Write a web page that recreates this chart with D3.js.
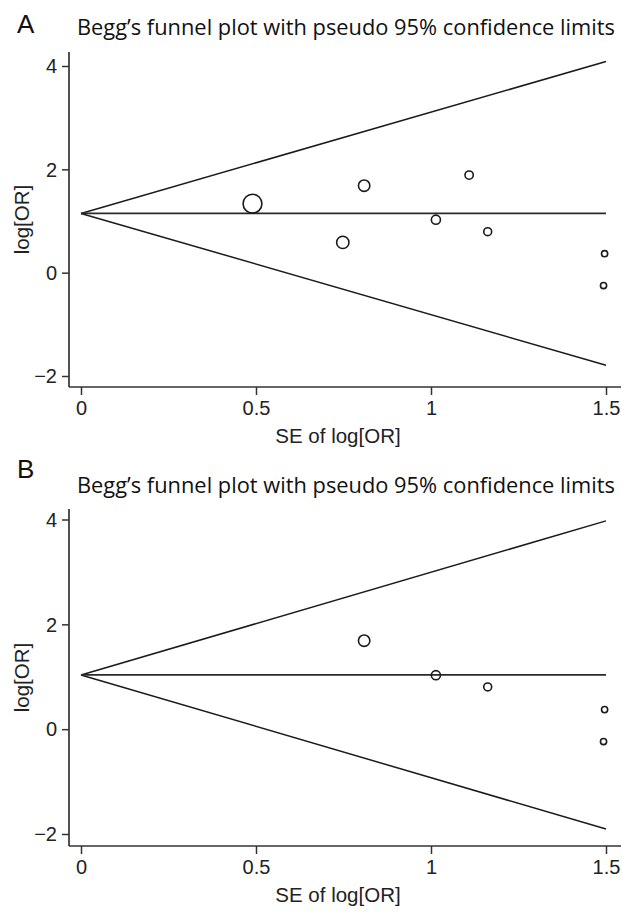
<!DOCTYPE html>
<html>
<head>
<meta charset="utf-8">
<script src="https://cdn.jsdelivr.net/npm/d3@7"></script>
<style>
  body { margin: 0; background: #fff; }
  svg { display: block; }
  .tick text { font-family: "Liberation Sans", Arial, sans-serif; font-size: 20px; fill: #222; }
</style>
</head>
<body>
<svg width="622" height="913"></svg>
<script>
// study estimates
const seA = [0.49, 0.809, 0.748, 1.109, 1.014, 1.162, 1.496, 1.493];
const logOrA = [1.335, 1.683, 0.586, 1.888, 1.025, 0.793, 0.367, -0.25];
const seB = [0.809, 1.014, 1.162, 1.496, 1.493];
const logOrB = [1.688, 1.03, 0.806, 0.373, -0.236];
// pooled estimates (funnel apex)
const pooled = [1.147, 1.034];
const panelLetters = ["A", "B"];
const titleText = "Begg\u2019s funnel plot with pseudo 95% confidence limits";
const xTicks = [0, 0.5, 1, 1.5];
const yTicks = [-2, 0, 2, 4];
const z = 1.96;

const svg = d3.select("svg");

// circle area proportional to weight 1/se^2
const maxW = 1 / (0.49 * 0.49);
const rScale = d3.scaleSqrt().domain([0, maxW]).range([0, 9.4]);

const panels = [
  { letter: panelLetters[0], se: seA, est: logOrA, theta: pooled[0],
    letterY: 33, titleY: 35, top: 52, y4: 66, yM2: 376, bottom: 387 },
  { letter: panelLetters[1], se: seB, est: logOrB, theta: pooled[1],
    letterY: 478, titleY: 493, top: 509, y4: 519.5, yM2: 834, bottom: 846 }
];

const axisLeft = 69, axisRight = 621;

panels.forEach(function(p) {
  const g = svg.append("g");

  const x = d3.scaleLinear().domain([0, 1.5]).range([81, 606]);
  const y = d3.scaleLinear().domain([-2, 4]).range([p.yM2, p.y4]);

  g.append("text")
    .attr("x", 17).attr("y", p.letterY)
    .style("font-family", "Liberation Sans, Arial, sans-serif")
    .style("font-size", "26px")
    .attr("fill", "#111")
    .text(p.letter);

  g.append("text")
    .attr("x", 77).attr("y", p.titleY)
    .attr("textLength", 538)
    .attr("lengthAdjust", "spacingAndGlyphs")
    .style("font-family", "Open Sans, Noto Sans, sans-serif")
    .style("font-size", "22px")
    .attr("fill", "#111")
    .text(titleText);

  // axes
  const ya = g.append("g")
    .attr("transform", "translate(" + axisLeft + ",0)")
    .call(d3.axisLeft(y).tickValues(yTicks).tickSize(7).tickPadding(5)
      .tickFormat(function(d) { return d < 0 ? "\u2212" + Math.abs(d) : d; }));
  ya.select(".domain").remove();
  ya.selectAll(".tick line").attr("stroke", "#333").attr("stroke-width", 1.5);
  ya.selectAll(".tick text").attr("dy", "0.34em");

  const xa = g.append("g")
    .attr("transform", "translate(0," + p.bottom + ")")
    .call(d3.axisBottom(x).tickValues(xTicks).tickSize(8).tickPadding(6)
      .tickFormat(function(d) { return d; }));
  xa.select(".domain").remove();
  xa.selectAll(".tick line").attr("stroke", "#333").attr("stroke-width", 1.5);

  g.append("line")
    .attr("x1", axisLeft).attr("x2", axisLeft)
    .attr("y1", p.top).attr("y2", p.bottom)
    .attr("stroke", "#333").attr("stroke-width", 1.7);
  g.append("line")
    .attr("x1", axisLeft).attr("x2", axisRight)
    .attr("y1", p.bottom).attr("y2", p.bottom)
    .attr("stroke", "#333").attr("stroke-width", 1.7);

  g.append("text")
    .attr("transform", "translate(29," + ((p.top + p.bottom) / 2) + ") rotate(-90)")
    .attr("text-anchor", "middle")
    .style("font-family", "Liberation Sans, Arial, sans-serif")
    .style("font-size", "20.5px")
    .attr("fill", "#222")
    .text("log[OR]");

  g.append("text")
    .attr("x", 338).attr("y", p.bottom + 56)
    .attr("text-anchor", "middle")
    .style("font-family", "Liberation Sans, Arial, sans-serif")
    .style("font-size", "20.5px")
    .attr("fill", "#222")
    .text("SE of log[OR]");

  // pseudo 95% confidence limits
  const line = d3.line().x(function(d) { return x(d[0]); }).y(function(d) { return y(d[1]); });
  const limits = [
    [[0, p.theta], [1.5, p.theta + z * 1.5]],
    [[0, p.theta], [1.5, p.theta - z * 1.5]]
  ];
  g.selectAll(".limit").data(limits).enter().append("path")
    .attr("class", "limit")
    .attr("d", line)
    .attr("fill", "none").attr("stroke", "#1a1a1a").attr("stroke-width", 1.5);
  g.append("path")
    .attr("d", line([[0, p.theta], [1.5, p.theta]]))
    .attr("fill", "none").attr("stroke", "#2a2a2a").attr("stroke-width", 1.7);

  const pts = p.se.map(function(s, i) { return { se: s, est: p.est[i] }; });
  g.selectAll(".study").data(pts).enter().append("circle")
    .attr("class", "study")
    .attr("cx", function(d) { return x(d.se); })
    .attr("cy", function(d) { return y(d.est); })
    .attr("r", function(d) { return rScale(1 / (d.se * d.se)); })
    .attr("fill", "none").attr("stroke", "#1a1a1a").attr("stroke-width", 1.6);
});
</script>
</body>
</html>
